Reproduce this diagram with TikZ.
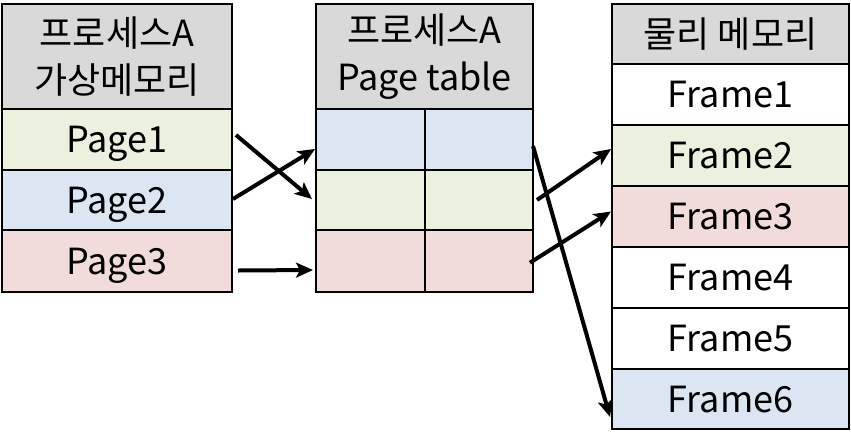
\documentclass[tikz,border=0pt]{standalone}
\usepackage{fontspec}
\setmainfont{Noto Sans CJK KR}
\usetikzlibrary{calc,arrows.meta}
\definecolor{hdr}{HTML}{D9D9D9}
\definecolor{cgreen}{HTML}{EBF1DE}
\definecolor{cblue}{HTML}{DCE6F2}
\definecolor{cpink}{HTML}{F2DCDB}
\tikzset{
  cell/.style={draw=black, line width=2pt, anchor=north west, inner sep=0pt, outer sep=0pt,
    font=\fontsize{36}{46}\selectfont, align=center},
  one/.style={text height=26.5pt, text depth=0pt},
  arr/.style={line width=4pt, -{Stealth[length=17pt,width=15pt,inset=4pt]}}
}
\begin{document}
\begin{tikzpicture}[x=1pt,y=-1pt]
\useasboundingbox (0,0) rectangle (851,445);
% left table
\node[cell, fill=hdr, minimum width=230, minimum height=105] (lh) at (2,4) {프로세스A\\[1pt]가상메모리};
\node[cell, one, fill=cgreen, minimum width=230, minimum height=61] (p1) at (2,109) {Page1};
\node[cell, one, fill=cblue, minimum width=230, minimum height=60] (p2) at (2,170) {Page2};
\node[cell, one, fill=cpink, minimum width=230, minimum height=62] (p3) at (2,230) {Page3};
% page table
\node[cell, fill=hdr, minimum width=217, minimum height=105] (th) at (316,4) {프로세스A\\[1pt]Page table};
\node[cell, fill=cblue, minimum width=108.5, minimum height=61] (t1a) at (316,109) {};
\node[cell, fill=cblue, minimum width=108.5, minimum height=61] (t1b) at (424.5,109) {};
\node[cell, fill=cgreen, minimum width=108.5, minimum height=60] (t2a) at (316,170) {};
\node[cell, fill=cgreen, minimum width=108.5, minimum height=60] (t2b) at (424.5,170) {};
\node[cell, fill=cpink, minimum width=108.5, minimum height=62] (t3a) at (316,230) {};
\node[cell, fill=cpink, minimum width=108.5, minimum height=62] (t3b) at (424.5,230) {};
% physical memory
\node[cell, one, fill=hdr, minimum width=237, minimum height=60] (fh) at (612,4) {물리 메모리};
\node[cell, one, fill=white, minimum width=237, minimum height=61] (f1) at (612,64) {Frame1};
\node[cell, one, fill=cgreen, minimum width=237, minimum height=61] (f2) at (612,125) {Frame2};
\node[cell, one, fill=cpink, minimum width=237, minimum height=61] (f3) at (612,186) {Frame3};
\node[cell, one, fill=white, minimum width=237, minimum height=61] (f4) at (612,247) {Frame4};
\node[cell, one, fill=white, minimum width=237, minimum height=61] (f5) at (612,308) {Frame5};
\node[cell, one, fill=cblue, minimum width=237, minimum height=60] (f6) at (612,369) {Frame6};
% arrows
\draw[arr] ($(p1.east)+(4,-4.5)$) -- ($(t2a.west)+(-4,-1)$);
\draw[arr] ($(p2.east)+(1,-1)$) -- ($(t1a.west)+(-1,9.5)$);
\draw[arr] ($(p3.east)+(6,9.5)$) -- ($(t3a.west)+(-3,9)$);
\draw[arr] ($(t1b.east)+(0,6.5)$) -- ($(f6.west)+(-2,18)$);
\draw[arr] ($(t2b.east)+(4,0)$) -- ($(f2.west)+(-1,-6.5)$);
\draw[arr] ($(t3b.east)+(-3,1.7)$) -- ($(f3.west)+(-1,-5)$);
\end{tikzpicture}
\end{document}
